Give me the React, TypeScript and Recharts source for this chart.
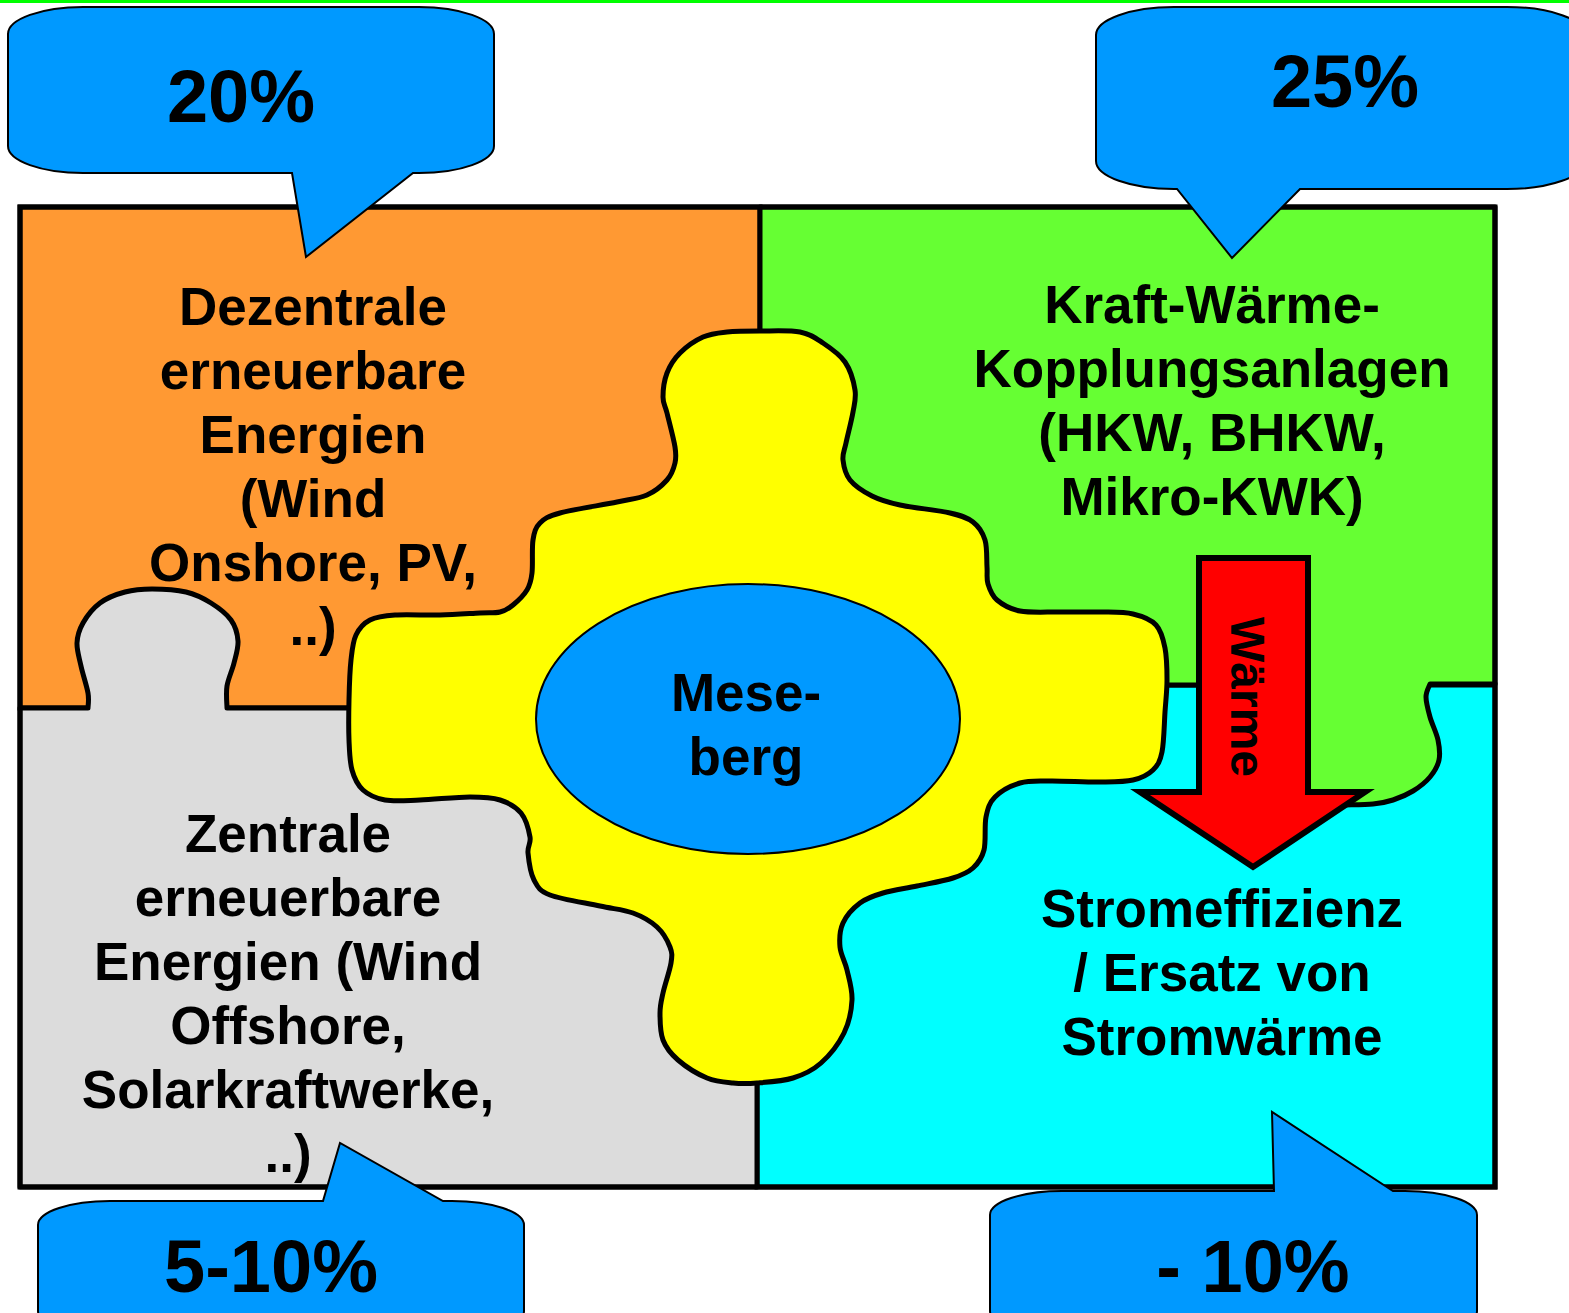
import React from 'react';
import { ComposedChart, XAxis, YAxis, Scatter, ReferenceArea } from 'recharts';

type P = [number, number];

// ---------- canvas ----------
const W = 1569;
const H = 1313;

// ---------- data (texts / values) ----------
const percentages = ['20%', '25%', '5-10%', '- 10%'];
const orangeLines = ['Dezentrale', 'erneuerbare', 'Energien', '(Wind', 'Onshore, PV,', '..)'];
const greenLines = ['Kraft-Wärme-', 'Kopplungsanlagen', '(HKW, BHKW,', 'Mikro-KWK)'];
const greyLines = ['Zentrale', 'erneuerbare', 'Energien (Wind', 'Offshore,', 'Solarkraftwerke,', '..)'];
const cyanLines = ['Stromeffizienz', '/ Ersatz von', 'Stromwärme'];
const centerLines = ['Mese-', 'berg'];
const arrowLabel = 'Wärme';

// ---------- layout (text anchors: centre x, first baseline y) ----------
const percentAnchors: P[] = [[241, 122], [1345, 107], [271, 1292], [1253, 1292]];
const orangeAnchor: P = [313, 325];
const greenAnchor: P = [1212, 323];
const greyAnchor: P = [288, 852];
const cyanAnchor: P = [1222, 927];
const centerAnchor: P = [746, 711];
const arrowLabelAnchor: P = [1247, 697];
const LINE = 64;

// ---------- geometry ----------
const frame = { x1: 20, y1: 207, x2: 1495, y2: 1187 };
const greyTab: P[] = [
  [88, 708], [88, 693], [81, 666], [77, 643], [83, 623], [100, 603], [125, 592], [152, 589],
  [186, 592], [211, 603], [231, 620], [238, 641], [234, 663], [227, 686], [227, 708],
];
const greenTab: P[] = [
  [1430, 684], [1426, 697], [1430, 717], [1438, 740], [1439, 760], [1430, 777], [1413, 791],
  [1393, 800], [1373, 804], [1345, 805],
];
const yellowOutline: P[] = [
  [760, 331], [800, 332], [823, 343], [845, 362], [855, 390], [853, 412], [846, 443], [843, 460],
  [850, 480], [872, 496], [900, 505], [950, 513], [973, 522], [985, 540], [987, 567], [988, 584],
  [997, 600], [1020, 611], [1060, 612], [1100, 612], [1133, 614], [1156, 625], [1165, 648],
  [1167, 680], [1165, 712], [1162, 752], [1153, 770], [1133, 780], [1100, 782], [1050, 781],
  [1020, 783], [995, 797], [986, 817], [984, 850], [973, 868], [953, 878], [917, 886], [883, 893],
  [860, 903], [843, 923], [840, 947], [847, 970], [852, 1000], [844, 1033], [821, 1063],
  [793, 1078], [757, 1083], [733, 1083], [707, 1078], [678, 1060], [663, 1040], [660, 1013],
  [663, 993], [671, 963], [670, 947], [657, 927], [633, 913], [600, 906], [550, 895], [534, 880],
  [528, 853], [530, 837], [521, 813], [500, 800], [470, 797], [420, 800], [385, 800], [363, 790],
  [352, 770], [349, 740], [349, 700], [351, 660], [356, 635], [370, 620], [395, 615], [440, 615],
  [480, 613], [500, 612], [513, 605], [527, 590], [532, 573], [533, 540], [540, 523], [560, 513],
  [617, 502], [647, 495], [667, 480], [675, 463], [675, 447], [667, 413], [663, 397], [667, 373],
  [680, 353], [703, 337], [727, 332],
];
const ellipse = { cx: 748, cy: 719, rx: 212, ry: 135 };
const arrowPts: P[] = [[1199, 558], [1308, 558], [1308, 792], [1365, 792], [1253, 867], [1140, 792], [1199, 792]];

type Bubble = { l: number; t: number; r: number; b: number; rx: number; ry: number; side: 'top' | 'bottom'; a: number; tip: P; c: number };
const bubbles: Bubble[] = [
  { l: 8, t: 7, r: 494, b: 173, rx: 75, ry: 27, side: 'bottom', a: 292, tip: [306, 257], c: 413 },
  { l: 1096, t: 7, r: 1585, b: 189, rx: 78, ry: 28, side: 'bottom', a: 1177, tip: [1232, 258], c: 1300 },
  { l: 38, t: 1201, r: 524, b: 1335, rx: 72, ry: 24, side: 'top', a: 323, tip: [340, 1143], c: 443 },
  { l: 990, t: 1191, r: 1477, b: 1335, rx: 72, ry: 24, side: 'top', a: 1274, tip: [1272, 1112], c: 1393 },
];

// ---------- colours ----------
const C = {
  orange: '#FF9933', green: '#66FF33', grey: '#DCDCDC', cyan: '#00FFFF', yellow: '#FFFF00',
  blue: '#0099FF', red: '#FF0000', line: '#00FF00', ink: '#000000',
};
const FONT = "'Liberation Sans', Arial, Helvetica, sans-serif";

// ---------- helpers ----------
type Mapper = { X: (v: number) => number; Y: (v: number) => number; kx: number; ky: number };
type Box = [number, number, number, number];

const mapperFrom = (props: any, box: Box): Mapper => {
  const [bx1, by1, bx2, by2] = box;
  const kx = props.width / (bx2 - bx1);
  const ky = props.height / (by2 - by1);
  return { X: (v) => props.x + (v - bx1) * kx, Y: (v) => props.y + (v - by1) * ky, kx, ky };
};
const f = (n: number) => n.toFixed(1);
const pt = (m: Mapper, p: P) => `${f(m.X(p[0]))},${f(m.Y(p[1]))}`;

function smooth(m: Mapper, pts: P[], closed: boolean): string {
  const n = pts.length;
  const get = (i: number): P => (closed ? pts[(i + n) % n] : pts[Math.max(0, Math.min(n - 1, i))]);
  const segs = closed ? n : n - 1;
  let d = '';
  for (let i = 0; i < segs; i++) {
    const p0 = get(i - 1), p1 = get(i), p2 = get(i + 1), p3 = get(i + 2);
    const c1: P = [p1[0] + (p2[0] - p0[0]) / 6, p1[1] + (p2[1] - p0[1]) / 6];
    const c2: P = [p2[0] - (p3[0] - p1[0]) / 6, p2[1] - (p3[1] - p1[1]) / 6];
    d += ` C${pt(m, c1)} ${pt(m, c2)} ${pt(m, p2)}`;
  }
  return d;
}

const bboxOf = (pts: P[]): Box => [
  Math.min(...pts.map((p) => p[0])), Math.min(...pts.map((p) => p[1])),
  Math.max(...pts.map((p) => p[0])), Math.max(...pts.map((p) => p[1])),
];

function bubblePath(m: Mapper, bb: Bubble): string {
  const { l, t, r, b, rx, ry } = bb;
  const arx = f(rx * m.kx), ary = f(ry * m.ky);
  const arc = (p: P) => ` A${arx} ${ary} 0 0 1 ${pt(m, p)}`;
  let d = `M${pt(m, [l + rx, t])}`;
  if (bb.side === 'top') d += ` L${pt(m, [bb.a, t])} L${pt(m, bb.tip)} L${pt(m, [bb.c, t])}`;
  d += ` L${pt(m, [r - rx, t])}` + arc([r, t + ry]) + ` L${pt(m, [r, b - ry])}` + arc([r - rx, b]);
  if (bb.side === 'bottom') d += ` L${pt(m, [bb.c, b])} L${pt(m, bb.tip)} L${pt(m, [bb.a, b])}`;
  d += ` L${pt(m, [l + rx, b])}` + arc([l, b - ry]) + ` L${pt(m, [l, t + ry])}` + arc([l + rx, t]) + ' Z';
  return d;
}

type ShapeSpec = { id: string; box: Box; draw: (m: Mapper) => React.ReactElement };

const shapes: ShapeSpec[] = [
  {
    id: 'topline', box: [0, 0, W, 3],
    draw: (m) => <rect x={m.X(0)} y={m.Y(0)} width={W * m.kx} height={3 * m.ky} fill={C.line} />,
  },
  {
    id: 'orange', box: [frame.x1, frame.y1, 760, 708],
    draw: (m) => (
      <path d={`M${pt(m, [frame.x1, frame.y1])} L${pt(m, [760, frame.y1])} L${pt(m, [760, 708])} L${pt(m, [frame.x1, 708])} Z`}
        fill={C.orange} stroke={C.ink} strokeWidth={5} />
    ),
  },
  {
    id: 'cyan', box: [757, 685, frame.x2, frame.y2],
    draw: (m) => (
      <path d={`M${pt(m, [757, 685])} L${pt(m, [frame.x2, 685])} L${pt(m, [frame.x2, frame.y2])} L${pt(m, [757, frame.y2])} Z`}
        fill={C.cyan} stroke={C.ink} strokeWidth={5} />
    ),
  },
  {
    id: 'grey', box: [frame.x1, 589, 757, frame.y2],
    draw: (m) => (
      <path
        d={`M${pt(m, [frame.x1, 708])} L${pt(m, greyTab[0])}${smooth(m, greyTab, false)} L${pt(m, [757, 708])} L${pt(m, [757, frame.y2])} L${pt(m, [frame.x1, frame.y2])} Z`}
        fill={C.grey} stroke={C.ink} strokeWidth={5} strokeLinejoin="round" />
    ),
  },
  {
    id: 'green', box: [760, frame.y1, frame.x2, 805],
    draw: (m) => (
      <path
        d={`M${pt(m, [760, frame.y1])} L${pt(m, [frame.x2, frame.y1])} L${pt(m, [frame.x2, 684])} L${pt(m, greenTab[0])}${smooth(m, greenTab, false)} L${pt(m, [1308, 805])} L${pt(m, [1308, 685])} L${pt(m, [760, 685])} Z`}
        fill={C.green} stroke={C.ink} strokeWidth={5} strokeLinejoin="round" />
    ),
  },
  {
    id: 'frame', box: [frame.x1, frame.y1, frame.x2, frame.y2],
    draw: (m) => (
      <rect x={m.X(frame.x1)} y={m.Y(frame.y1)} width={(frame.x2 - frame.x1) * m.kx} height={(frame.y2 - frame.y1) * m.ky}
        fill="none" stroke={C.ink} strokeWidth={5} />
    ),
  },
  {
    id: 'yellow', box: bboxOf(yellowOutline),
    draw: (m) => (
      <path d={`M${pt(m, yellowOutline[0])}${smooth(m, yellowOutline, true)} Z`} fill={C.yellow} stroke={C.ink} strokeWidth={5} />
    ),
  },
  {
    id: 'ellipse', box: [ellipse.cx - ellipse.rx, ellipse.cy - ellipse.ry, ellipse.cx + ellipse.rx, ellipse.cy + ellipse.ry],
    draw: (m) => (
      <ellipse cx={m.X(ellipse.cx)} cy={m.Y(ellipse.cy)} rx={ellipse.rx * m.kx} ry={ellipse.ry * m.ky} fill={C.blue} stroke={C.ink} strokeWidth={2} />
    ),
  },
  {
    id: 'arrow', box: bboxOf(arrowPts),
    draw: (m) => (
      <path d={`M${arrowPts.map((p) => pt(m, p)).join(' L')} Z`} fill={C.red} stroke={C.ink} strokeWidth={6} strokeLinejoin="miter" />
    ),
  },
  ...bubbles.map((bb, i) => ({
    id: `bubble${i}`,
    box: [bb.l, Math.min(bb.t, bb.tip[1]), bb.r, Math.max(bb.b, bb.tip[1])] as Box,
    draw: (m: Mapper) => <path d={bubblePath(m, bb)} fill={C.blue} stroke={C.ink} strokeWidth={2} strokeLinejoin="miter" />,
  })),
];

// ---------- text items ----------
type TextItem = { x: number; y: number; t: string; size: number; rot?: number };
const block = (lines: string[], a: P, size: number): TextItem[] =>
  lines.map((t, i) => ({ x: a[0], y: a[1] + i * LINE, t, size }));

const textItems: TextItem[] = [
  ...percentages.map((t, i) => ({ x: percentAnchors[i][0], y: percentAnchors[i][1], t, size: 74 })),
  ...block(orangeLines, orangeAnchor, 53),
  ...block(greenLines, greenAnchor, 53),
  ...block(greyLines, greyAnchor, 53),
  ...block(cyanLines, cyanAnchor, 53),
  ...block(centerLines, centerAnchor, 53),
  { x: arrowLabelAnchor[0], y: arrowLabelAnchor[1], t: arrowLabel, size: 48, rot: 90 },
];

const TextShape = (props: any) => {
  const { cx, cy, payload } = props;
  if (cx == null || cy == null) return null;
  const rot = payload.rot;
  return (
    <text
      x={cx}
      y={cy}
      textAnchor="middle"
      dominantBaseline={rot ? 'central' : 'alphabetic'}
      transform={rot ? `rotate(${rot} ${cx} ${cy})` : undefined}
      fontFamily={FONT}
      fontWeight="bold"
      fontSize={payload.size}
      fill={C.ink}
    >
      {payload.t}
    </text>
  );
};

export default function App() {
  return (
    <div style={{ position: 'absolute', left: 0, top: 0, width: W, height: H, background: '#fff' }}>
      <ComposedChart width={W} height={H} margin={{ top: 0, right: 0, bottom: 0, left: 0 }}>
        <XAxis type="number" dataKey="x" domain={[0, W]} hide allowDataOverflow />
        <YAxis type="number" dataKey="y" domain={[0, H]} reversed hide allowDataOverflow />
        {shapes.map((s) => (
          <ReferenceArea
            key={s.id}
            x1={s.box[0]}
            x2={s.box[2]}
            y1={s.box[1]}
            y2={s.box[3]}
            ifOverflow="visible"
            shape={(props: any) => s.draw(mapperFrom(props, s.box))}
          />
        ))}
        <Scatter data={textItems} dataKey="y" isAnimationActive={false} shape={TextShape} />
      </ComposedChart>
    </div>
  );
}
